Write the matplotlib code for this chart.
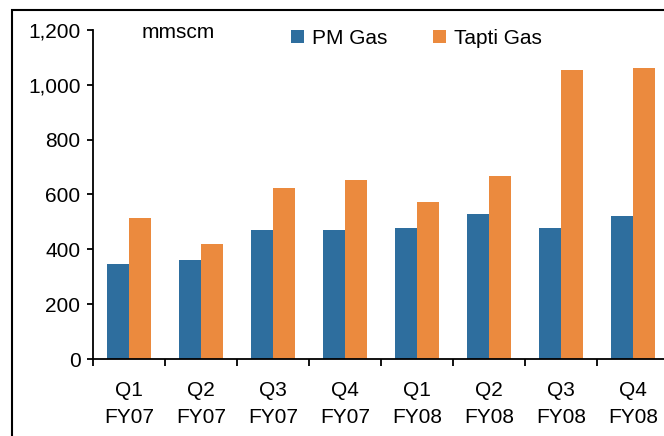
import numpy as np
import matplotlib.pyplot as plt
from matplotlib.patches import Rectangle
from matplotlib.ticker import FuncFormatter

quarters = ['Q1\nFY07', 'Q2\nFY07', 'Q3\nFY07', 'Q4\nFY07',
            'Q1\nFY08', 'Q2\nFY08', 'Q3\nFY08', 'Q4\nFY08']
pm_gas = [347, 361, 470, 470, 478, 529, 478, 522]
tapti_gas = [515, 419, 624, 653, 573, 667, 1054, 1061]

blue = '#2E6E9E'
orange = '#EB8A3E'

plt.rcParams['font.family'] = ['Liberation Sans', 'DejaVu Sans']
plt.rcParams['font.size'] = 15

fig = plt.figure(figsize=(6.64, 4.36), dpi=100)
ax = fig.add_axes([93 / 664, 1 - 359 / 436, 576 / 664, 329 / 436])

x = np.arange(len(quarters))
w = 0.305
ax.bar(x - w / 2, pm_gas, w, color=blue, label='PM Gas')
ax.bar(x + w / 2, tapti_gas, w, color=orange, label='Tapti Gas')

ax.set_ylim(0, 1200)
ax.set_xlim(-0.5, len(quarters) - 0.5)
ax.set_yticks(range(0, 1201, 200))
ax.yaxis.set_major_formatter(FuncFormatter(lambda v, p: f'{int(v):,}'))

# ticks at category boundaries, labels at centres
ax.set_xticks(np.arange(-0.5, len(quarters), 1))
ax.set_xticklabels([])
ax.set_xticks(x, minor=True)
ax.set_xticklabels(quarters, minor=True, linespacing=1.5)
ax.tick_params(axis='x', which='major', length=5, width=1.3, direction='out')
ax.tick_params(axis='x', which='minor', length=0, pad=16)
ax.tick_params(axis='y', length=4, width=1.3, direction='out', pad=5)

for s in ['top', 'right']:
    ax.spines[s].set_visible(False)
for s in ['left', 'bottom']:
    ax.spines[s].set_linewidth(1.3)

fig.text(142 / 664, 1 - 32 / 436, 'mmscm', ha='left', va='center')
ax.legend(loc='center left', bbox_to_anchor=(291 / 664, 1 - 38.5 / 436),
          bbox_transform=fig.transFigure, ncol=2, frameon=False,
          handlelength=0.62, handleheight=0.62, handletextpad=0.38,
          columnspacing=2.2, borderaxespad=0, borderpad=0)

# outer frame (runs off the right and bottom of the image)
fig.patches.append(Rectangle((12 / 664, -0.1), 1.2, 1.1 - 10 / 436,
                             transform=fig.transFigure, fill=False,
                             edgecolor='black', linewidth=1.5))

fig.savefig('out.png', dpi=100)
